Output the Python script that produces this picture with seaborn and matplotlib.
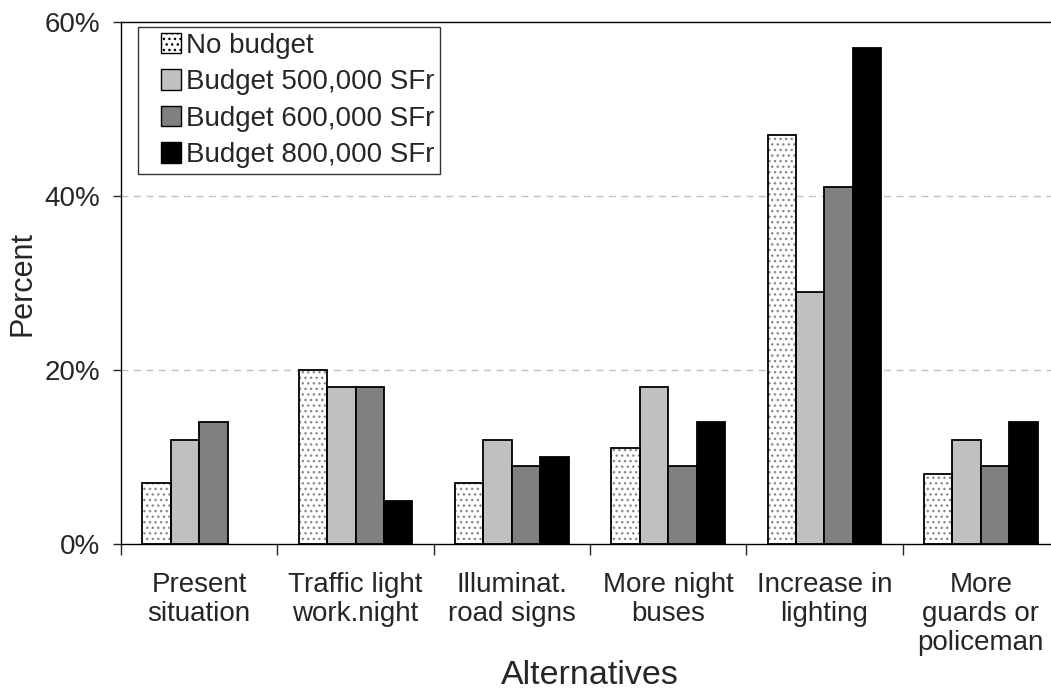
import pandas as pd
import matplotlib.pyplot as plt
import seaborn as sns
from matplotlib.patches import Patch, Rectangle
from matplotlib.legend_handler import HandlerPatch
from matplotlib.ticker import FixedLocator, PercentFormatter

# Data (percent of respondents)
alternatives = [
    'Present\nsituation', 'Traffic light\nwork.night', 'Illuminat.\nroad signs',
    'More night\nbuses', 'Increase in\nlighting', 'More\nguards or\npoliceman',
]
budgets = ['No budget', 'Budget 500,000 SFr', 'Budget 600,000 SFr', 'Budget 800,000 SFr']
no_budget = [7, 20, 7, 11, 47, 8]
budget_500 = [12, 18, 12, 18, 29, 12]
budget_600 = [14, 18, 9, 9, 41, 9]
budget_800 = [0, 5, 10, 14, 57, 14]
colors = ['white', '#C0C0C0', '#808080', 'black']


def build_frame():
    rows = []
    for budget, values in zip(budgets, [no_budget, budget_500, budget_600, budget_800]):
        for alt, v in zip(alternatives, values):
            rows.append({'alternative': alt, 'budget': budget, 'percent': v})
    return pd.DataFrame(rows)


# square legend key pushed to the right end of the handle box
def square_key(legend, orig_handle, xdescent, ydescent, width, height, fontsize):
    return Rectangle((-xdescent + width - height, -ydescent), height, height)


def main():
    sns.set_style('white')
    plt.rcParams['font.family'] = ['Liberation Sans', 'DejaVu Sans']
    plt.rcParams['hatch.linewidth'] = 1.0

    df = build_frame()

    fig = plt.figure(figsize=(10.51, 6.93), dpi=100)
    ax = fig.add_axes([121 / 1051, 149 / 693, 938 / 1051, 522 / 693])

    sns.barplot(data=df, x='alternative', y='percent', hue='budget',
                order=alternatives, hue_order=budgets, palette=colors,
                width=0.725, edgecolor='black', linewidth=1.3,
                legend=False, ax=ax)

    for bars in ax.containers:
        for p in bars:
            if p.get_height() == 0:
                p.set_linewidth(0)

    # dotted pattern on the "No budget" bars, black outline drawn on top
    for p in ax.containers[0]:
        p.set_hatch('...')
        p.set_edgecolor('#8a8a8a')
        p.set_linewidth(0)
        ax.add_patch(Rectangle(p.get_xy(), p.get_width(), p.get_height(),
                               fill=False, ec='black', lw=1.3, zorder=p.get_zorder() + 0.1))

    ax.set_ylim(0, 60)
    ax.set_xlim(-0.5, len(alternatives) - 0.5)
    ax.set_yticks([0, 20, 40, 60])
    ax.yaxis.set_major_formatter(PercentFormatter(decimals=0))
    ax.tick_params(axis='y', labelsize=20, length=6, width=1, direction='out',
                   left=True, pad=9)

    # category labels centred, tick marks at category boundaries
    ax.tick_params(axis='x', which='major', length=0, labelsize=20, pad=20)
    ax.xaxis.set_minor_locator(FixedLocator([i - 0.5 for i in range(len(alternatives) + 1)]))
    ax.tick_params(axis='x', which='minor', length=8, width=1, bottom=True, direction='out')
    for lbl in ax.get_xticklabels():
        lbl.set_linespacing(1.15)
        lbl.set_verticalalignment('top')

    for y in [20, 40]:
        ax.axhline(y, color='#C0C0C0', lw=1, ls=(0, (5, 4)), zorder=0)

    for side in ['left', 'bottom', 'top']:
        ax.spines[side].set_visible(True)
        ax.spines[side].set_color('black')
        ax.spines[side].set_linewidth(1)
    ax.spines['right'].set_visible(False)

    ax.set_xlabel('Alternatives', fontsize=24.5, labelpad=3)
    ax.set_ylabel('Percent', fontsize=22, labelpad=5)

    handles = []
    for i, c in enumerate(colors):
        if i == 0:
            handles.append(Patch(facecolor='white', edgecolor='black', hatch='...', lw=1))
        else:
            handles.append(Patch(facecolor=c, edgecolor='black', lw=1))
    leg = ax.legend(handles, budgets, loc='upper left', bbox_to_anchor=(0.018, 0.99),
                    borderaxespad=0, fontsize=20, frameon=True, fancybox=False,
                    edgecolor='black', handlelength=1.36, handleheight=0.76,
                    handletextpad=0.18, labelspacing=0.38, borderpad=0.2,
                    handler_map={Patch: HandlerPatch(patch_func=square_key)})
    leg.get_frame().set_linewidth(1)

    fig.savefig('out.png', dpi=100)


if __name__ == "__main__":
    main()
